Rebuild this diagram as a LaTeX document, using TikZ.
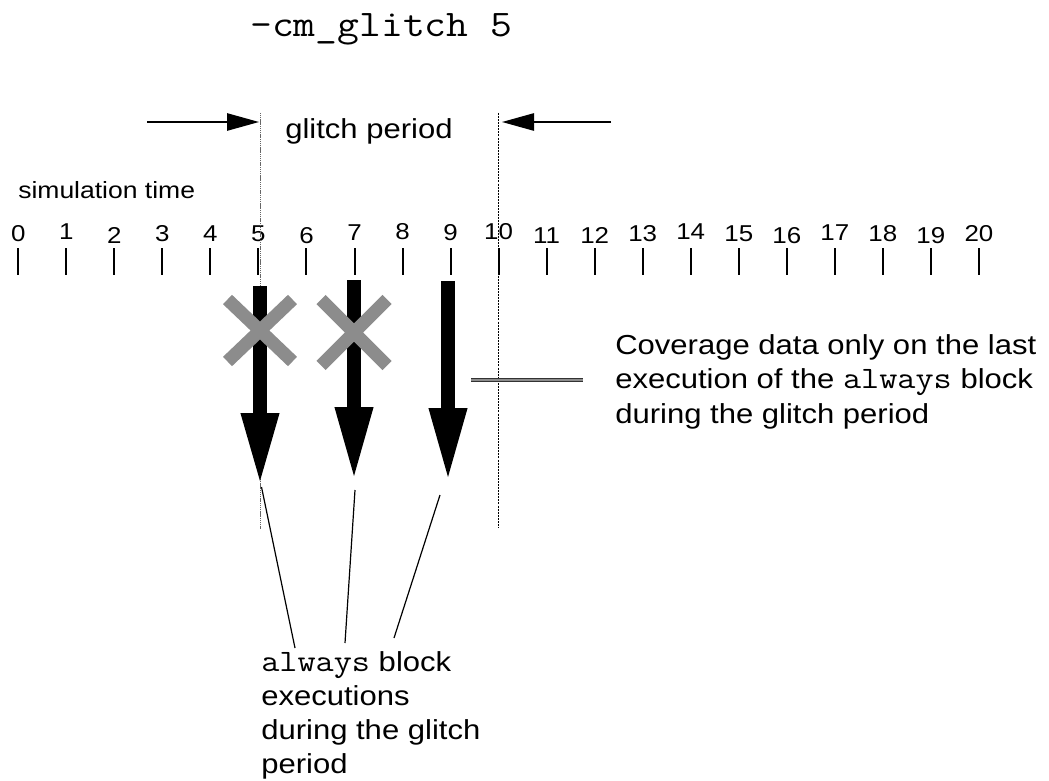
\documentclass[tikz,border=0pt]{standalone}
\usepackage{fontspec}
\setmainfont{Liberation Sans}[FakeStretch=1.13]
\newfontfamily\monofont{Latin Modern Mono}[FakeStretch=1.13, Scale=1.135]
\usetikzlibrary{arrows.meta}
\tikzset{
  txt/.style={inner sep=0pt, anchor=base west, align=left, font=\fontsize{20.6}{25.9}\selectfont},
  num/.style={inner sep=0pt, anchor=base, font=\fontsize{17.2}{20}\selectfont},
  tickmark/.style={line width=1.5pt},
  periodarrow/.style={line width=1.2pt, -{Triangle[length=24pt,width=13pt]}},
  gridleft/.style={line width=1.4pt, black!60, dash pattern=on 0.9pt off 0.5pt},
  gridright/.style={line width=1.3pt, black, dash pattern=on 1.5pt off 0.8pt},
  xmark/.style={line width=9.75pt, color={rgb,255:red,140;green,140;blue,140}, line cap=butt},
  pointer/.style={line width=0.9pt},
  hpointer/.style={line width=0.55pt, draw=black!80, double={rgb,255:red,140;green,140;blue,140}, double distance=1.6pt}
}
\begin{document}
\begin{tikzpicture}[x=0.75pt,y=-0.75pt]
\useasboundingbox (0,0) rectangle (1049,781);

% title
\node[inner sep=0pt, anchor=base west, font=\monofont\fontsize{24.8}{30}\selectfont] (title) at (250,37) {-cm\_glitch 5};

% glitch period markers
\node[txt] (gp) at (285,139) {glitch period};
\coordinate (la) at (147,122);
\coordinate (lb) at (259,122);
\coordinate (ra) at (611,122);
\coordinate (rb) at (502,122);
\draw[periodarrow] (la) -- (lb);
\draw[periodarrow] (ra) -- (rb);

% simulation time axis
\node[txt, font=\fontsize{17.6}{20}\selectfont] (simt) at (18,199) {simulation time};
\foreach \i/\b in {0/241,1/239,2/243,3/241,4/241,5/241,6/243,7/240,8/239,9/240,10/239,11/243,12/243,13/241,14/239,15/241,16/243,17/240,18/241,19/243,20/241}{
  \coordinate (t\i) at ({18.3+48.03*\i},248);
  \draw[tickmark] (t\i) -- ++(0,27);
  \node[num] (n\i) at ({18.3+48.03*\i},\b) {\i};
}

% glitch period boundaries
\coordinate (gl1) at (260.5,113);
\coordinate (gl2) at (260.5,529);
\coordinate (gr1) at (498.6,113);
\coordinate (gr2) at (498.6,528);
\draw[gridleft] (gl1) -- (gl2);
\draw[gridright] (gr1) -- (gr2);

% always block executions (block arrows)
\foreach \x/\t/\b/\p [count=\k] in {260/286/413/481, 354/280/407/476, 448/281/408/477}{
  \fill ({\x-6.7},\t) rectangle ({\x+6.7},\b+1);
  \fill ({\x-19.6},\b) -- ({\x+19.6},\b) -- (\x,\p) -- cycle;
  \coordinate (tip\k) at (\x,\p);
}

% crossed-out executions
\draw[xmark] (227.5,299.5) -- (292.5,361.5) (292.5,299.5) -- (227.5,361.5);
\draw[xmark] (321,299.5) -- (387,365.5) (387,299.5) -- (321,365.5);

% pointer to the last execution
\coordinate (hp1) at (471,380);
\coordinate (hp2) at (583,380);
\draw[hpointer] (hp1) -- (hp2);
\node[txt] (cov) at (615,423.3) {Coverage data only on the last\\execution of the {\monofont always} block\\during the glitch period};

% pointers to the label
\node[txt, font=\fontsize{20.6}{25.35}\selectfont] (lab) at (261,773) {{\monofont always} block\\executions\\during the glitch\\period};
\coordinate (p1a) at (261.5,487);
\coordinate (p1b) at (295,648);
\coordinate (p2a) at (355,490);
\coordinate (p2b) at (345,643);
\coordinate (p3a) at (440,495);
\coordinate (p3b) at (394,638);
\draw[pointer] (p1a) -- (p1b);
\draw[pointer] (p2a) -- (p2b);
\draw[pointer] (p3a) -- (p3b);
\end{tikzpicture}
\end{document}
